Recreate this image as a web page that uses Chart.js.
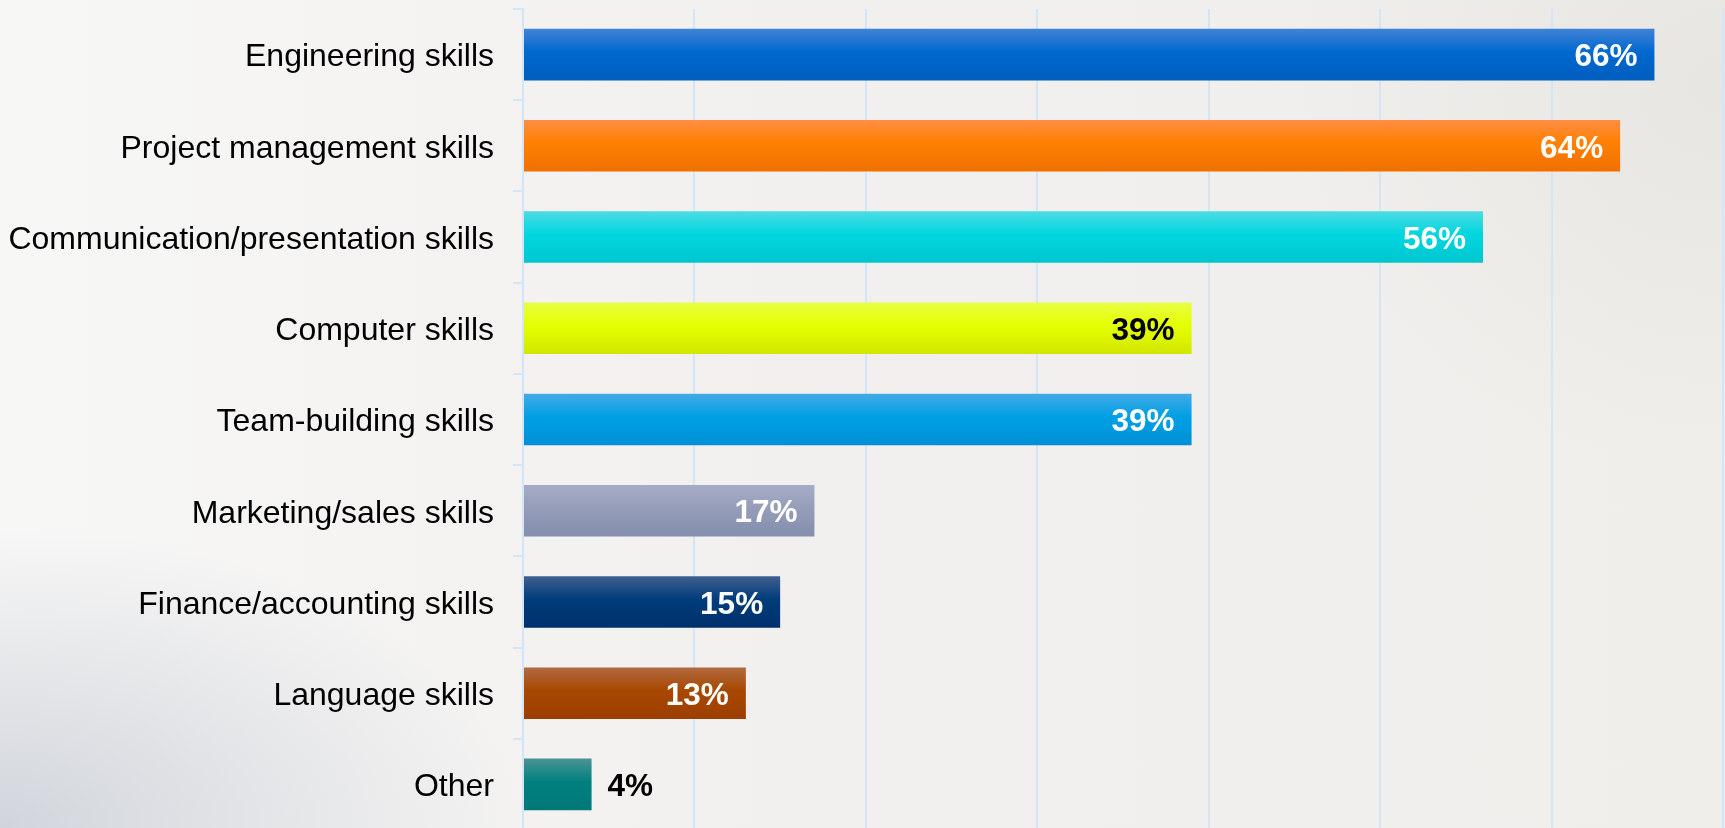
<!DOCTYPE html>
<html>
<head>
<meta charset="utf-8">
<script src="https://cdn.jsdelivr.net/npm/chart.js@4.4.0/dist/chart.umd.min.js"></script>
<style>
    html, body {
        margin: 0;
        padding: 0;
        width: 1725px;
        height: 828px;
        overflow: hidden;
    }
    body {
        background:
            radial-gradient(ellipse 520px 300px at 0% 100%, rgba(196, 201, 210, 0.75) 0%, rgba(196, 201, 210, 0) 100%),
            radial-gradient(ellipse 450px 380px at 100% 10%, rgba(226, 226, 223, 0.7) 0%, rgba(226, 226, 223, 0) 100%),
            linear-gradient(90deg, #f7f7f6 0%, #f1f0ee 45%, #efeeeb 100%);
    }
    #chart_container {
        position: relative;
        width: 1725px;
        height: 840px;
    }
</style>
</head>
<body>
<div id="chart_container">
    <canvas id="bar-chart"></canvas>
</div>
<script>
// Data
const categories = [
    'Engineering skills',
    'Project management skills',
    'Communication/presentation skills',
    'Computer skills',
    'Team-building skills',
    'Marketing/sales skills',
    'Finance/accounting skills',
    'Language skills',
    'Other'
];
const values = [66, 64, 56, 39, 39, 17, 15, 13, 4];
const valueLabels = ['66%', '64%', '56%', '39%', '39%', '17%', '15%', '13%', '4%'];

// Warna bar (atas, tengah, bawah) dan warna label
const topColors = ['#4082d6', '#ff8d45', '#4edbe3', '#e8ff45', '#44aae6', '#a6acc8', '#40608f', '#b26a42', '#4b9393'];
const midColors = ['#0068cf', '#ff8000', '#00d6df', '#e4ff00', '#00a0e4', '#959db9', '#003c7c', '#a84800', '#008080'];
const bottomColors = ['#005ebe', '#ee7000', '#00c6ce', '#d2e600', '#008fd6', '#838ead', '#00306c', '#9c3e00', '#007878'];
const labelColors = ['#fff', '#fff', '#fff', '#000', '#fff', '#fff', '#fff', '#fff', '#000'];
const labelInside = [true, true, true, true, true, true, true, true, false];

const gridColor = '#d3e5f8';
const barPct = 0.565;

var ctxBar = document.getElementById('bar-chart');

function barGradient(context) {
    const chart = context.chart;
    const i = context.dataIndex;
    const yScale = chart.scales.y;
    const area = chart.chartArea;
    if (!yScale || !area) return midColors[i];
    const y = yScale.getPixelForValue(i);
    const half = (area.bottom - area.top) / categories.length * barPct / 2;
    const grad = chart.ctx.createLinearGradient(0, y - half, 0, y + half);
    grad.addColorStop(0, topColors[i]);
    grad.addColorStop(0.45, midColors[i]);
    grad.addColorStop(1, bottomColors[i]);
    return grad;
}

// Plugin label nilai
const valueLabelPlugin = {
    id: 'valueLabels',
    afterDatasetsDraw(chart) {
        const ctx = chart.ctx;
        const meta = chart.getDatasetMeta(0);
        ctx.save();
        ctx.font = 'bold 31.5px "Liberation Sans", Arial, sans-serif';
        ctx.textBaseline = 'middle';
        meta.data.forEach((bar, i) => {
            ctx.fillStyle = labelColors[i];
            if (labelInside[i]) {
                ctx.textAlign = 'right';
                ctx.fillText(valueLabels[i], bar.x - 17, bar.y + 3);
            } else {
                ctx.textAlign = 'left';
                ctx.fillText(valueLabels[i], bar.x + 16, bar.y + 3);
            }
        });
        ctx.restore();
    }
};

var barChart = new Chart(ctxBar, {
    type: 'bar',
    data: {
        labels: categories,
        datasets: [{
            data: values,
            backgroundColor: barGradient,
            borderWidth: 0,
            barPercentage: barPct,
            categoryPercentage: 1
        }]
    },
    options: {
        indexAxis: 'y',
        responsive: true,
        maintainAspectRatio: false,
        animation: false,
        layout: {
            padding: { top: 9, right: 2, bottom: 10, left: 0 }
        },
        plugins: {
            legend: { display: false },
            tooltip: { enabled: false }
        },
        scales: {
            x: {
                min: 0,
                max: 70,
                afterFit: (scale) => {
                    scale.height = 0;
                    scale.paddingLeft = 0;
                    scale.paddingRight = 0;
                },
                ticks: { display: false, stepSize: 10 },
                grid: { color: gridColor, lineWidth: 2, drawTicks: false },
                border: { display: false }
            },
            y: {
                afterFit: (scale) => {
                    scale.width = 523;
                    scale.paddingTop = 0;
                    scale.paddingBottom = 0;
                },
                grid: {
                    offset: true,
                    drawOnChartArea: false,
                    drawTicks: true,
                    tickLength: 10,
                    color: gridColor,
                    lineWidth: 2
                },
                border: { color: gridColor, width: 2 },
                ticks: {
                    color: '#000',
                    padding: 19,
                    labelOffset: 3,
                    font: { family: '"Liberation Sans", Arial, sans-serif', size: 32 }
                }
            }
        }
    },
    plugins: [valueLabelPlugin]
});
</script>
</body>
</html>
